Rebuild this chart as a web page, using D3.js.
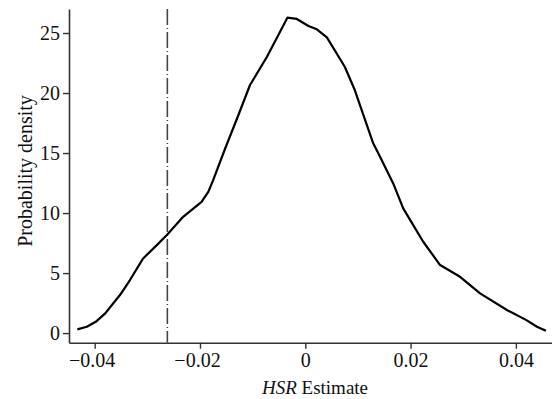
<!DOCTYPE html>
<html>
<head>
<meta charset="utf-8">
<script src="https://cdn.jsdelivr.net/npm/d3@7"></script>
<style>
  body { margin: 0; background: #fff; }
  svg { display: block; }
  text { font-family: "Liberation Serif", "Times New Roman", serif; fill: #111; }
</style>
</head>
<body>
<svg width="552" height="399"></svg>
<script>
var svg = d3.select('svg');

// kernel density of the HSR estimate
var estimate = [-0.0433, -0.0415, -0.0398, -0.0380, -0.0365, -0.0352, -0.0333, -0.0308,
                -0.0282, -0.0262, -0.0232, -0.0197, -0.0184, -0.0175, -0.0152, -0.0127,
                -0.0105, -0.0073, -0.0034, -0.0016, 0.0006, 0.0022, 0.0041, 0.0075,
                0.0094, 0.0129, 0.0142, 0.0167, 0.0186, 0.0205, 0.0224, 0.0256,
                0.0294, 0.0332, 0.0383, 0.0420, 0.0440, 0.0457];
var density = [0.31, 0.53, 0.94, 1.64, 2.47, 3.17, 4.42, 6.22,
               7.33, 8.22, 9.69, 10.94, 11.78, 12.75, 15.4, 18.17,
               20.67, 23.0, 26.28, 26.17, 25.58, 25.31, 24.64, 22.19,
               20.25, 15.81, 14.69, 12.47, 10.39, 9.0, 7.61, 5.67,
               4.69, 3.31, 1.92, 1.08, 0.53, 0.19];
var cutoff = -0.0262;

var xTicks = [-0.04, -0.02, 0, 0.02, 0.04];
var yTicks = [0, 5, 10, 15, 20, 25];

var plotLeft = 69, plotRight = 552, plotTop = 9, plotBottom = 342.7;

var x = d3.scaleLinear().domain([-0.04488, 0.04686]).range([plotLeft, plotRight]);
var y = d3.scaleLinear().domain([-0.8, 27]).range([plotBottom, plotTop]);

var fmtX = function(d) {
	if (d === 0) return '0';
	return (d < 0 ? '\u2212' : '') + Math.abs(d).toFixed(2);
};

var gx = svg.append('g')
.attr('transform', 'translate(0,' + plotBottom + ')')
.call(d3.axisBottom(x).tickValues(xTicks).tickFormat(fmtX).tickSize(6).tickSizeOuter(0).tickPadding(4));

// the minus sign pushes negative labels a little left in the original
gx.selectAll('.tick text').attr('dx', function(d) { return d < 0 ? -3 : 0; });

svg.append('g')
.attr('transform', 'translate(' + plotLeft + ',0)')
.call(d3.axisLeft(y).tickValues(yTicks).tickSize(6).tickSizeOuter(0).tickPadding(3));

svg.selectAll('.domain').attr('stroke', '#333').attr('stroke-width', 1.6);
svg.selectAll('.tick line').attr('stroke', '#333').attr('stroke-width', 1.4);
svg.selectAll('.tick text')
.attr('font-family', '"Liberation Serif", serif')
.attr('font-size', '20px')
.attr('fill', '#111');

// dash-dot reference line
svg.append('line')
.attr('x1', x(cutoff)).attr('x2', x(cutoff))
.attr('y1', plotTop).attr('y2', plotBottom)
.attr('stroke', '#444')
.attr('stroke-width', 1.6)
.attr('stroke-dasharray', '16,3,1,3');

var line = d3.line()
.x(function(d, i) { return x(estimate[i]); })
.y(function(d, i) { return y(density[i]); });

svg.append('path')
.datum(density)
.attr('d', line)
.attr('fill', 'none')
.attr('stroke', '#000')
.attr('stroke-width', 2.2)
.attr('stroke-linejoin', 'round');

svg.append('text')
.attr('transform', 'translate(32,171) rotate(-90)')
.attr('text-anchor', 'middle')
.attr('font-size', '20px')
.text('Probability density');

var xt = svg.append('text')
.attr('x', 315)
.attr('y', 394)
.attr('text-anchor', 'middle')
.attr('font-size', '19px');
xt.append('tspan').attr('font-style', 'italic').text('HSR');
xt.append('tspan').text(' Estimate');
</script>
</body>
</html>
